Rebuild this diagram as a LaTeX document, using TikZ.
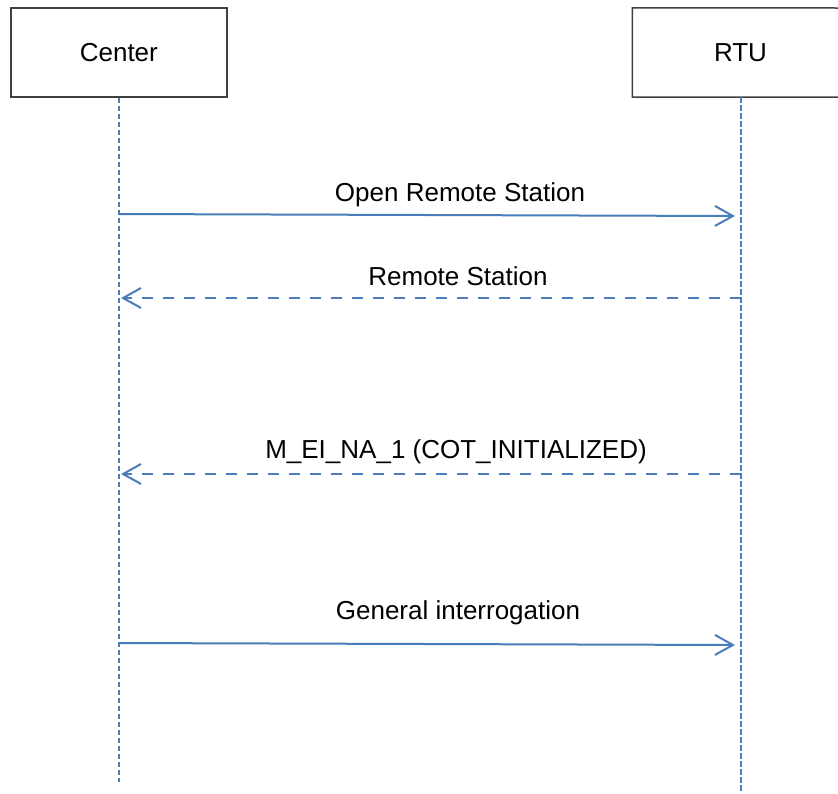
\documentclass[tikz,border=0pt]{standalone}
\usepackage{fontspec}
\setmainfont{Liberation Sans}
\usetikzlibrary{arrows.meta}
\definecolor{lineblue}{RGB}{74,126,187}
\begin{document}
\begin{tikzpicture}[x=1pt,y=-1pt,
  actor/.style={draw=black!75,line width=1.5pt,minimum width=216pt,minimum height=89pt,inner sep=0pt,font=\fontsize{26}{30}\selectfont},
  actortext/.style={minimum width=216pt,minimum height=89pt,inner sep=0pt,font=\fontsize{26}{30}\selectfont},
  boxline/.style={draw=black!75,line width=1.5pt},
  lifeline/.style={draw=lineblue,line width=2pt,dash pattern=on 5.7pt off 2.3pt},
  msg/.style={draw=lineblue,line width=2pt,-{Straight Barb[length=18pt,width=20pt,line width=2pt]}},
  reply/.style={msg,dash pattern=on 11pt off 10pt},
  lbl/.style={font=\fontsize{26}{30}\selectfont,anchor=base,inner sep=0pt}]
\useasboundingbox (0,0) rectangle (838,793);
\fill[white] (0,0) rectangle (838,793);
\node[actor] (center) at (118.85,52.5) {Center};
\node[actortext] (rtu) at (740.5,52.5) {RTU};
% RTU box runs past the right edge of the picture
\coordinate (rtuNE) at (838,8);
\coordinate (rtuSE) at (838,97);
\draw[boxline] (rtuNE) -- (rtu.north west) -- (rtu.south west) -- (rtuSE);
\coordinate (cend) at (118.85,782);
\coordinate (rend) at (740.5,793);
\draw[lifeline] (center.south) -- (cend);
\draw[lifeline] (rtu.south) -- (rend);
% message 1
\coordinate (m1s) at (118.85,214);
\coordinate (m1e) at (735,216);
\draw[msg] (m1s) -- (m1e);
\node[lbl] (l1) at (460,201) {Open Remote Station};
% message 2
\coordinate (m2s) at (740.5,298);
\coordinate (m2e) at (121,298);
\draw[reply] (m2s) -- (m2e);
\node[lbl] (l2) at (458,285) {Remote Station};
% message 3
\coordinate (m3s) at (740.5,474);
\coordinate (m3e) at (121,474);
\draw[reply] (m3s) -- (m3e);
\node[lbl] (l3) at (456,458) {M\_EI\_NA\_1 (COT\_INITIALIZED)};
% message 4
\coordinate (m4s) at (118.85,643);
\coordinate (m4e) at (735,645);
\draw[msg] (m4s) -- (m4e);
\node[lbl] (l4) at (458,619) {General interrogation};
\end{tikzpicture}
\end{document}
